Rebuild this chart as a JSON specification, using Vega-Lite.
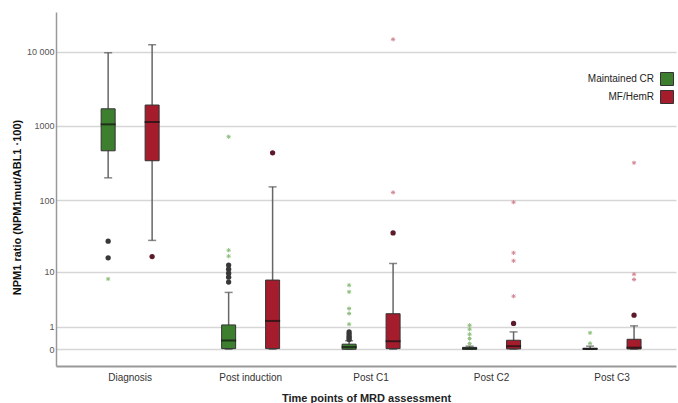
{
  "$schema": "https://vega.github.io/schema/vega-lite/v6.json",
  "width": 620,
  "height": 354,
  "autosize": {"type": "none"},
  "padding": {"left": 56, "top": 12, "right": 2, "bottom": 37},
  "background": "white",
  "config": {"view": {"stroke": null}, "font": "Liberation Sans"},
  "datasets": {
    "boxes": [
      {"time": "Diagnosis", "group": "Maintained CR", "lower": 200, "q1": 463, "median": 1050, "q3": 1700, "upper": 9640},
      {"time": "Diagnosis", "group": "MF/HemR", "lower": 28, "q1": 340, "median": 1130, "q3": 1910, "upper": 12350},
      {"time": "Post induction", "group": "Maintained CR", "lower": 0, "q1": 0.02, "median": 0.31, "q3": 1.12, "upper": 4.8},
      {"time": "Post induction", "group": "MF/HemR", "lower": 0, "q1": 0.02, "median": 1.4, "q3": 7.5, "upper": 151},
      {"time": "Post C1", "group": "Maintained CR", "lower": 0, "q1": 0.0, "median": 0.07, "q3": 0.17, "upper": 0.3},
      {"time": "Post C1", "group": "MF/HemR", "lower": 0, "q1": 0.02, "median": 0.28, "q3": 2.0, "upper": 13.2},
      {"time": "Post C2", "group": "Maintained CR", "lower": 0, "q1": 0.0, "median": 0.02, "q3": 0.06, "upper": 0.1},
      {"time": "Post C2", "group": "MF/HemR", "lower": 0, "q1": 0.01, "median": 0.1, "q3": 0.32, "upper": 0.71},
      {"time": "Post C3", "group": "Maintained CR", "lower": 0, "q1": 0.0, "median": 0.01, "q3": 0.03, "upper": 0.1},
      {"time": "Post C3", "group": "MF/HemR", "lower": 0, "q1": 0.01, "median": 0.05, "q3": 0.36, "upper": 1.06}
    ],
    "outliers": [
      {"time": "Diagnosis", "group": "Maintained CR", "value": 27.3, "kind": "circle"},
      {"time": "Diagnosis", "group": "Maintained CR", "value": 15.9, "kind": "circle"},
      {"time": "Diagnosis", "group": "Maintained CR", "value": 7.8, "kind": "star"},
      {"time": "Diagnosis", "group": "MF/HemR", "value": 16.6, "kind": "circle"},
      {"time": "Post induction", "group": "Maintained CR", "value": 715, "kind": "star"},
      {"time": "Post induction", "group": "Maintained CR", "value": 20.4, "kind": "star"},
      {"time": "Post induction", "group": "Maintained CR", "value": 16.8, "kind": "star"},
      {"time": "Post induction", "group": "Maintained CR", "value": 12.5, "kind": "circle"},
      {"time": "Post induction", "group": "Maintained CR", "value": 10.9, "kind": "circle"},
      {"time": "Post induction", "group": "Maintained CR", "value": 9.5, "kind": "circle"},
      {"time": "Post induction", "group": "Maintained CR", "value": 8.3, "kind": "circle"},
      {"time": "Post induction", "group": "Maintained CR", "value": 7.0, "kind": "circle"},
      {"time": "Post induction", "group": "MF/HemR", "value": 435, "kind": "circle"},
      {"time": "Post C1", "group": "Maintained CR", "value": 6.25, "kind": "star"},
      {"time": "Post C1", "group": "Maintained CR", "value": 4.9, "kind": "star"},
      {"time": "Post C1", "group": "Maintained CR", "value": 2.52, "kind": "star"},
      {"time": "Post C1", "group": "Maintained CR", "value": 2.02, "kind": "star"},
      {"time": "Post C1", "group": "Maintained CR", "value": 1.17, "kind": "star"},
      {"time": "Post C1", "group": "Maintained CR", "value": 0.71, "kind": "circle"},
      {"time": "Post C1", "group": "Maintained CR", "value": 0.6, "kind": "circle"},
      {"time": "Post C1", "group": "Maintained CR", "value": 0.5, "kind": "circle"},
      {"time": "Post C1", "group": "Maintained CR", "value": 0.42, "kind": "circle"},
      {"time": "Post C1", "group": "Maintained CR", "value": 0.35, "kind": "circle"},
      {"time": "Post C1", "group": "MF/HemR", "value": 14600, "kind": "star"},
      {"time": "Post C1", "group": "MF/HemR", "value": 127, "kind": "star"},
      {"time": "Post C1", "group": "MF/HemR", "value": 35.6, "kind": "circle"},
      {"time": "Post C2", "group": "Maintained CR", "value": 1.1, "kind": "star"},
      {"time": "Post C2", "group": "Maintained CR", "value": 0.86, "kind": "star"},
      {"time": "Post C2", "group": "Maintained CR", "value": 0.59, "kind": "star"},
      {"time": "Post C2", "group": "Maintained CR", "value": 0.39, "kind": "star"},
      {"time": "Post C2", "group": "Maintained CR", "value": 0.19, "kind": "star"},
      {"time": "Post C2", "group": "MF/HemR", "value": 93.7, "kind": "star"},
      {"time": "Post C2", "group": "MF/HemR", "value": 18.7, "kind": "star"},
      {"time": "Post C2", "group": "MF/HemR", "value": 14.4, "kind": "star"},
      {"time": "Post C2", "group": "MF/HemR", "value": 4.16, "kind": "star"},
      {"time": "Post C2", "group": "MF/HemR", "value": 1.22, "kind": "circle"},
      {"time": "Post C3", "group": "Maintained CR", "value": 0.66, "kind": "star"},
      {"time": "Post C3", "group": "Maintained CR", "value": 0.2, "kind": "star"},
      {"time": "Post C3", "group": "MF/HemR", "value": 319, "kind": "star"},
      {"time": "Post C3", "group": "MF/HemR", "value": 9.2, "kind": "star"},
      {"time": "Post C3", "group": "MF/HemR", "value": 7.65, "kind": "star"},
      {"time": "Post C3", "group": "MF/HemR", "value": 1.87, "kind": "circle"}
    ]
  },
  "encoding": {
    "x": {
      "field": "time",
      "type": "nominal",
      "sort": ["Diagnosis", "Post induction", "Post C1", "Post C2", "Post C3"],
      "scale": {"paddingInner": 0, "paddingOuter": 0.073, "align": 0.79},
      "axis": {
        "title": "Time points of MRD assessment",
        "titleFontSize": 11,
        "titleFontWeight": "bold",
        "titleColor": "#222",
        "titleY": 26,
        "labelAngle": 0,
        "labelFontSize": 10,
        "labelColor": "#333",
        "labelPadding": 6,
        "ticks": false,
        "domainColor": "#999",
        "domainWidth": 2,
        "grid": false
      }
    },
    "xOffset": {
      "field": "group",
      "type": "nominal",
      "sort": ["Maintained CR", "MF/HemR"],
      "scale": {"paddingInner": 0, "paddingOuter": 0.37}
    }
  },
  "layer": [
    {
      "data": {"name": "boxes"},
      "mark": {"type": "rule", "color": "#666", "strokeWidth": 1.5},
      "encoding": {
        "y": {
          "field": "lower",
          "type": "quantitative",
          "scale": {"type": "symlog", "constant": 1, "domain": [-0.68, 34000], "nice": false, "zero": false},
          "axis": {
            "title": "NPM1 ratio (NPM1mut/ABL1 ·100)",
            "titleFontSize": 11,
            "titleFontWeight": "bold",
            "titleColor": "#111",
            "titleX": -34,
            "titleY": 195,
            "values": [0, 1, 10, 100, 1000, 10000],
            "labelExpr": "datum.value == 10000 ? '10 000' : format(datum.value, 'd')",
            "labelFontSize": 9,
            "labelColor": "#555",
            "labelPadding": 2,
            "ticks": false,
            "domainColor": "#999",
            "domainWidth": 1.5,
            "grid": true,
            "gridColor": "#d6d6d6",
            "gridWidth": 1.5
          }
        },
        "y2": {"field": "upper"}
      }
    },
    {
      "data": {"name": "boxes"},
      "mark": {"type": "tick", "orient": "horizontal", "color": "#555", "size": 8, "thickness": 1.5},
      "encoding": {"y": {"field": "upper", "type": "quantitative"}}
    },
    {
      "data": {"name": "boxes"},
      "mark": {"type": "tick", "orient": "horizontal", "color": "#555", "size": 8, "thickness": 1.5},
      "encoding": {"y": {"field": "lower", "type": "quantitative"}}
    },
    {
      "data": {"name": "boxes"},
      "mark": {"type": "bar", "size": 14, "stroke": "#333", "strokeWidth": 1},
      "encoding": {
        "y": {"field": "q1", "type": "quantitative"},
        "y2": {"field": "q3"},
        "fill": {
          "field": "group",
          "type": "nominal",
          "scale": {"domain": ["Maintained CR", "MF/HemR"], "range": ["#3e7f2f", "#a51c2c"]},
          "legend": {
            "title": null,
            "orient": "none",
            "legendX": 604,
            "legendY": 60,
            "padding": 0,
            "labelAlign": "right",
            "labelOffset": -20,
            "labelFontSize": 10,
            "labelColor": "#222",
            "symbolType": "square",
            "symbolSize": 169,
            "symbolStrokeColor": "#333",
            "symbolStrokeWidth": 1,
            "symbolOpacity": 1,
            "rowPadding": 0
          }
        }
      }
    },
    {
      "data": {"name": "boxes"},
      "mark": {"type": "tick", "orient": "horizontal", "color": "#111", "size": 15, "thickness": 2},
      "encoding": {"y": {"field": "median", "type": "quantitative"}}
    },
    {
      "data": {"name": "outliers"},
      "transform": [{"filter": "datum.kind == 'circle'"}],
      "mark": {"type": "point", "shape": "circle", "filled": true, "size": 28, "opacity": 1},
      "encoding": {
        "y": {"field": "value", "type": "quantitative"},
        "color": {"condition": {"test": "datum.group == 'MF/HemR'", "value": "#5c1a2a"}, "value": "#383838"}
      }
    },
    {
      "data": {"name": "outliers"},
      "transform": [{"filter": "datum.kind == 'star'"}],
      "mark": {"type": "point", "shape": "M-1,0L1,0M0,-1L0,1M-0.7,-0.7L0.7,0.7M-0.7,0.7L0.7,-0.7", "filled": false, "size": 18, "strokeWidth": 1, "opacity": 1},
      "encoding": {
        "y": {"field": "value", "type": "quantitative"},
        "color": {"condition": {"test": "datum.group == 'MF/HemR'", "value": "#d28a98"}, "value": "#8fbf7e"}
      }
    }
  ]
}
